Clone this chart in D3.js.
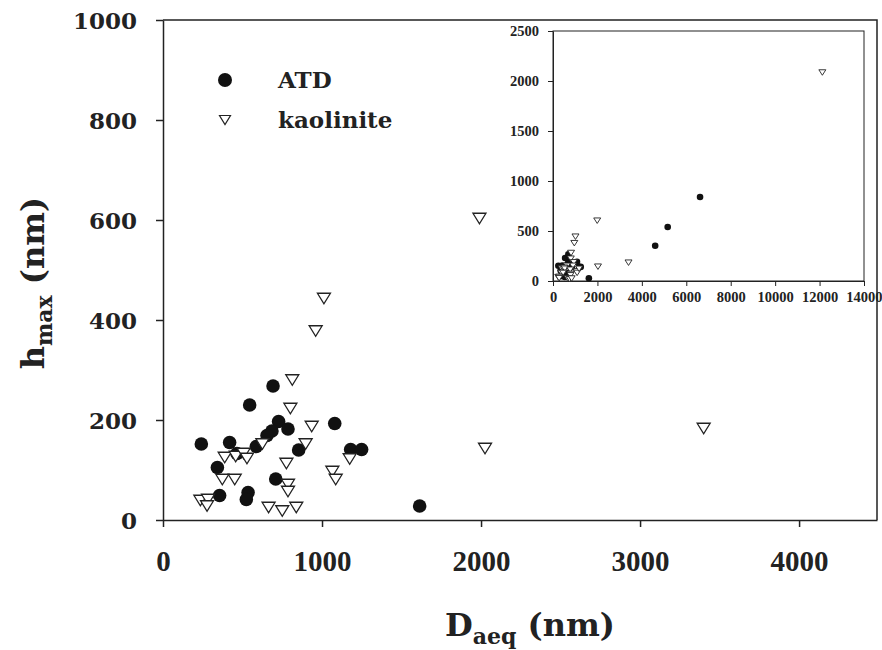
<!DOCTYPE html>
<html>
<head>
<meta charset="utf-8">
<script src="https://cdn.jsdelivr.net/npm/d3@7/dist/d3.min.js"></script>
<style>
  body { margin: 0; background: #fff; }
  svg { display: block; }
  .tick text { fill: #222; }
</style>
</head>
<body>
<div id="chart"></div>
<script>
// ===========Data
var atdX = [241, 419, 545, 692, 727, 685, 654, 786, 587, 465, 342, 853, 1080, 1180, 1249, 709, 356, 535, 524, 1614, 4600, 5163, 6620];
var atdY = [152, 155, 230, 268, 197, 178, 169, 182, 147, 133, 105, 140, 193, 141, 141, 82, 49, 55, 41, 28, 353, 540, 840];

var kaoX = [1012, 960, 813, 801, 935, 897, 625, 388, 457, 507, 528, 776, 373, 451, 786, 786, 1065, 1086, 1174, 235, 283, 277, 664, 750, 838, 1990, 2025, 3400, 12125];
var kaoY = [443, 378, 280, 223, 187, 152, 152, 125, 127, 133, 123, 113, 81, 81, 71, 57, 97, 81, 122, 39, 41, 28, 25, 18, 25, 603, 143, 183, 2085];

var mainXTicks = [0, 1000, 2000, 3000, 4000];
var mainYTicks = [0, 200, 400, 600, 800, 1000];
var insetXTicks = [0, 2000, 4000, 6000, 8000, 10000, 12000, 14000];
var insetYTicks = [0, 500, 1000, 1500, 2000, 2500];

var legendNames = ["ATD", "kaolinite"];

var atd = atdX.map(function(x, i) { return {x: x, y: atdY[i]}; });
var kao = kaoX.map(function(x, i) { return {x: x, y: kaoY[i]}; });

// ===========SVG
var svgWidth = 882, svgHeight = 650;
var svg = d3.select("#chart").append("svg")
    .attr("width", svgWidth)
    .attr("height", svgHeight);

var ink = "#222";
var serif = "'DejaVu Serif', serif";

// inverted triangle path centred on (0,0)
function triPath(w, h) {
    return "M" + (-w / 2) + "," + (-h / 2) + "L" + (w / 2) + "," + (-h / 2) + "L0," + (h / 2) + "Z";
}

// ===========Main plot
var main = {left: 163, top: 20, right: 877, bottom: 520};

var xMain = d3.scaleLinear().domain([0, 4490]).range([main.left, main.right]);
var yMain = d3.scaleLinear().domain([0, 1000]).range([main.bottom, main.top]);

// frame top + right
svg.append("path")
    .attr("d", "M" + main.left + "," + main.top + "H" + main.right + "V" + main.bottom)
    .attr("fill", "none")
    .attr("stroke", ink)
    .attr("stroke-width", 1.5);

var xAxisMain = svg.append("g")
    .attr("transform", "translate(0," + main.bottom + ")")
    .call(d3.axisBottom(xMain).tickValues(mainXTicks).tickSize(7).tickSizeOuter(0).tickPadding(23).tickFormat(d3.format("d")));

var yAxisMain = svg.append("g")
    .attr("transform", "translate(" + main.left + ",0)")
    .call(d3.axisLeft(yMain).tickValues(mainYTicks).tickSize(7).tickSizeOuter(0).tickPadding(19).tickFormat(d3.format("d")));

[xAxisMain, yAxisMain].forEach(function(ax) {
    ax.select(".domain").attr("stroke", ink).attr("stroke-width", 1.5);
    ax.selectAll(".tick line").attr("stroke", ink).attr("stroke-width", 1.5);
});
xAxisMain.selectAll("text")
    .attr("font-family", "'Liberation Serif', serif")
    .attr("font-weight", "bold")
    .attr("font-size", "29px");
yAxisMain.selectAll("text")
    .attr("font-family", serif)
    .attr("font-weight", "bold")
    .attr("font-size", "23px")
    .attr("dy", "0.36em");

// axis titles
var yTitle = svg.append("text")
    .attr("transform", "translate(44,283) rotate(-90)")
    .attr("text-anchor", "middle")
    .attr("font-family", serif)
    .attr("font-weight", "bold")
    .attr("font-size", "32px")
    .attr("fill", ink);
yTitle.append("tspan").text("h");
yTitle.append("tspan").attr("font-size", "22px").attr("dy", 8).text("max");
yTitle.append("tspan").attr("dy", -8).text(" (nm)");

var xTitle = svg.append("text")
    .attr("x", 530)
    .attr("y", 636)
    .attr("text-anchor", "middle")
    .attr("font-family", serif)
    .attr("font-weight", "bold")
    .attr("font-size", "32px")
    .attr("fill", ink);
xTitle.append("tspan").text("D");
xTitle.append("tspan").attr("font-size", "22px").attr("dy", 8).text("aeq");
xTitle.append("tspan").attr("dy", -8).text(" (nm)");

// points (only those inside the main window)
var inMain = function(d) { return d.x <= xMain.domain()[1] && d.y <= yMain.domain()[1]; };

svg.append("g").selectAll("circle")
    .data(atd.filter(inMain))
    .enter()
    .append("circle")
    .attr("cx", d => xMain(d.x))
    .attr("cy", d => yMain(d.y))
    .attr("r", 6.8)
    .attr("fill", "#111");

svg.append("g").selectAll("path")
    .data(kao.filter(inMain))
    .enter()
    .append("path")
    .attr("d", triPath(13, 10.5))
    .attr("transform", d => "translate(" + xMain(d.x) + "," + yMain(d.y) + ")")
    .attr("fill", "#fff")
    .attr("stroke", ink)
    .attr("stroke-width", 1.3);

// legend
var legend = svg.append("g");
legend.append("circle")
    .attr("cx", 225).attr("cy", 80).attr("r", 7)
    .attr("fill", "#111");
legend.append("path")
    .attr("d", triPath(11, 9))
    .attr("transform", "translate(225,120)")
    .attr("fill", "#fff")
    .attr("stroke", ink)
    .attr("stroke-width", 1.2);
legend.selectAll("text")
    .data(legendNames)
    .enter()
    .append("text")
    .attr("x", 278)
    .attr("y", (d, i) => 88 + i * 40)
    .attr("font-family", serif)
    .attr("font-weight", "bold")
    .attr("font-size", "23px")
    .attr("fill", ink)
    .text(d => d);

// ===========Inset
var inset = {left: 553, top: 31, right: 864, bottom: 281};

var xIn = d3.scaleLinear().domain([0, 14000]).range([inset.left, inset.right]);
var yIn = d3.scaleLinear().domain([0, 2500]).range([inset.bottom, inset.top]);

svg.append("rect")
    .attr("x", inset.left)
    .attr("y", inset.top)
    .attr("width", inset.right - inset.left)
    .attr("height", inset.bottom - inset.top)
    .attr("fill", "#fff")
    .attr("stroke", ink)
    .attr("stroke-width", 1);

var xAxisIn = svg.append("g")
    .attr("transform", "translate(0," + inset.bottom + ")")
    .call(d3.axisBottom(xIn).tickValues(insetXTicks).tickSize(5).tickSizeOuter(0).tickPadding(6).tickFormat(d3.format("d")));

var yAxisIn = svg.append("g")
    .attr("transform", "translate(" + inset.left + ",0)")
    .call(d3.axisLeft(yIn).tickValues(insetYTicks).tickSize(5).tickSizeOuter(0).tickPadding(9).tickFormat(d3.format("d")));

[xAxisIn, yAxisIn].forEach(function(ax) {
    ax.select(".domain").attr("stroke", ink);
    ax.selectAll(".tick line").attr("stroke", ink);
    ax.selectAll("text")
        .attr("font-family", "'Liberation Serif', serif")
        .attr("font-weight", "bold")
        .attr("font-size", "14.5px");
});
// keep the last inset label inside the page
xAxisIn.selectAll(".tick text").filter(d => d === 14000).attr("text-anchor", "end").attr("x", 18);

svg.append("g").selectAll("circle")
    .data(atd)
    .enter()
    .append("circle")
    .attr("cx", d => xIn(d.x))
    .attr("cy", d => yIn(d.y))
    .attr("r", 3.3)
    .attr("fill", "#111");

svg.append("g").selectAll("path")
    .data(kao)
    .enter()
    .append("path")
    .attr("d", triPath(7, 5.5))
    .attr("transform", d => "translate(" + xIn(d.x) + "," + yIn(d.y) + ")")
    .attr("fill", "#fff")
    .attr("stroke", ink)
    .attr("stroke-width", 0.9);
</script>
</body>
</html>
